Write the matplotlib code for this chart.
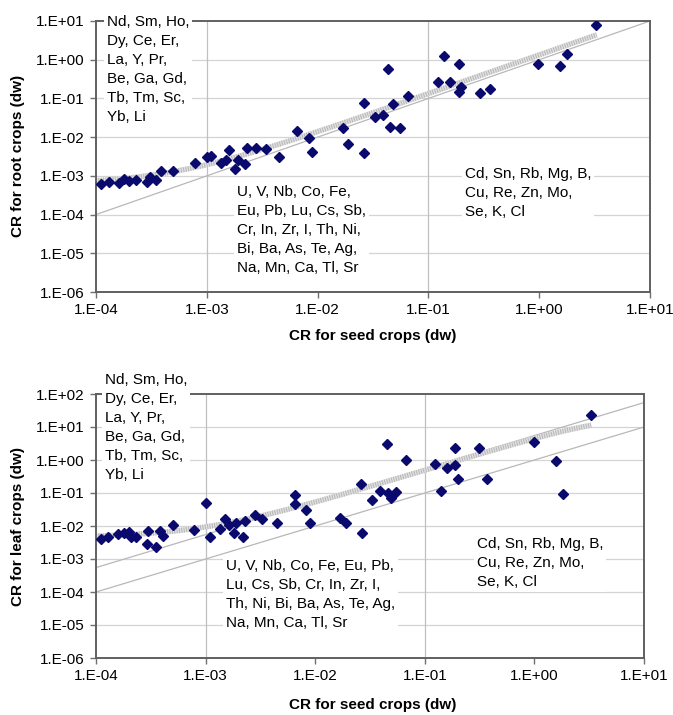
import numpy as np
import matplotlib
matplotlib.use("Agg")
import matplotlib.pyplot as plt
from matplotlib.ticker import FixedLocator, FuncFormatter

plt.rcParams["font.family"] = ["Liberation Sans", "DejaVu Sans"]

# ---- data ----
# root crops vs seed crops
root_seed = [1.1e-4, 1.3e-4, 1.6e-4, 1.8e-4, 2.0e-4, 2.3e-4, 2.9e-4, 3.1e-4, 3.5e-4, 3.9e-4,
             5.0e-4, 7.8e-4, 1.0e-3, 1.1e-3, 1.35e-3, 1.5e-3, 1.6e-3, 1.8e-3, 1.9e-3, 2.2e-3,
             2.3e-3, 2.8e-3, 3.4e-3, 4.5e-3, 6.5e-3, 8.3e-3, 8.9e-3, 1.7e-2, 1.9e-2, 2.6e-2,
             2.6e-2, 3.3e-2, 3.9e-2, 4.3e-2, 4.5e-2, 4.8e-2, 5.5e-2, 6.6e-2, 0.123, 0.138,
             0.158, 0.19, 0.195, 0.19, 0.29, 0.36, 0.98, 1.55, 1.78, 3.24]
root_val = [6.0e-4, 7.1e-4, 6.6e-4, 8.3e-4, 7.4e-4, 7.8e-4, 7.1e-4, 9.5e-4, 7.8e-4, 1.3e-3,
            1.3e-3, 2.1e-3, 3.1e-3, 3.2e-3, 2.1e-3, 2.6e-3, 4.7e-3, 1.5e-3, 2.6e-3, 2.0e-3,
            5.4e-3, 5.4e-3, 4.9e-3, 3.1e-3, 1.4e-2, 9.5e-3, 4.2e-3, 1.7e-2, 6.5e-3, 7.8e-2,
            4.0e-3, 3.4e-2, 3.7e-2, 0.56, 1.8e-2, 7.2e-2, 1.7e-2, 0.115, 0.27, 1.26,
            0.26, 0.78, 0.20, 0.148, 0.135, 0.174, 0.76, 0.69, 1.41, 7.9]

# leaf crops vs seed crops
leaf_seed = [1.1e-4, 1.3e-4, 1.6e-4, 1.8e-4, 2.0e-4, 2.1e-4, 2.3e-4, 3.0e-4, 2.95e-4, 3.5e-4,
             3.8e-4, 4.1e-4, 5.0e-4, 7.8e-4, 1.0e-3, 1.1e-3, 1.35e-3, 1.5e-3, 1.65e-3, 1.8e-3,
             1.9e-3, 2.2e-3, 2.3e-3, 2.8e-3, 3.3e-3, 4.5e-3, 6.6e-3, 6.5e-3, 8.3e-3, 8.9e-3,
             1.7e-2, 1.9e-2, 2.6e-2, 2.7e-2, 3.3e-2, 3.9e-2, 4.5e-2, 4.6e-2, 4.9e-2, 5.5e-2,
             6.8e-2, 0.123, 0.141, 0.158, 0.19, 0.19, 0.20, 0.31, 0.37, 1.0, 1.58, 1.82, 3.3]
leaf_val = [4.0e-3, 4.8e-3, 5.8e-3, 6.0e-3, 6.8e-3, 4.8e-3, 4.8e-3, 7.2e-3, 2.8e-3, 2.3e-3,
            7.2e-3, 5.0e-3, 1.07e-2, 7.6e-3, 5.1e-2, 4.8e-3, 7.9e-3, 1.6e-2, 1.07e-2, 6.0e-3,
            1.2e-2, 4.6e-3, 1.45e-2, 2.1e-2, 1.6e-2, 1.2e-2, 8.7e-2, 4.7e-2, 3.0e-2, 1.26e-2,
            1.7e-2, 1.26e-2, 0.186, 6.3e-3, 6.2e-2, 0.117, 3.0, 9.8e-2, 6.9e-2, 0.11,
            1.0, 0.76, 0.117, 0.56, 2.24, 0.71, 0.26, 2.24, 0.26, 3.5, 0.93, 0.093, 23.0]

# trendlines (polynomial coefficients c0 + c1*x + c2*x^2) and reference lines
root_fit = [6.2e-4, 1.33, 0.0]
leaf_fit = [4.5e-3, 4.9, -0.45]
fit_range = (1e-4, 3.3)
leaf_upper_factor = 5.5

left_labels = "Nd, Sm, Ho,\nDy, Ce, Er,\nLa, Y, Pr,\nBe, Ga, Gd,\nTb, Tm, Sc,\nYb, Li"
mid_labels_root = "U, V, Nb, Co, Fe,\nEu, Pb, Lu, Cs, Sb,\nCr, In, Zr, I, Th, Ni,\nBi, Ba, As, Te, Ag,\nNa, Mn, Ca, Tl, Sr"
mid_labels_leaf = "U, V, Nb, Co, Fe, Eu, Pb,\nLu, Cs, Sb, Cr, In, Zr, I,\nTh, Ni, Bi, Ba, As, Te, Ag,\nNa, Mn, Ca, Tl, Sr"
right_labels = "Cd, Sn, Rb, Mg, B,\nCu, Re, Zn, Mo,\nSe, K, Cl"

W, H = 673, 715
fig = plt.figure(figsize=(W / 100, H / 100), dpi=100)


def px_axes(l, t, r, b):
    return fig.add_axes([l / W, 1 - b / H, (r - l) / W, (b - t) / H])


def fmt(v, pos):
    e = int(round(np.log10(v)))
    return "1.E%s%02d" % ("+" if e >= 0 else "-", abs(e))


def style(ax, ylo, yhi):
    ax.set_xscale("log")
    ax.set_yscale("log")
    ax.set_xlim(1e-4, 1e1)
    ax.set_ylim(ylo, yhi)
    ax.xaxis.set_major_locator(FixedLocator([10.0 ** k for k in range(-4, 2)]))
    ax.yaxis.set_major_locator(FixedLocator([10.0 ** k for k in range(int(np.log10(ylo)), int(np.log10(yhi)) + 1)]))
    ax.xaxis.set_minor_locator(FixedLocator([]))
    ax.yaxis.set_minor_locator(FixedLocator([]))
    ax.xaxis.set_major_formatter(FuncFormatter(fmt))
    ax.yaxis.set_major_formatter(FuncFormatter(fmt))
    ax.tick_params(length=4, width=1, color="#707070", labelsize=11, pad=4)
    for s in ax.spines.values():
        s.set_color("#606060")
        s.set_linewidth(1.4)
    for k in range(int(np.log10(ylo)) + 1, int(np.log10(yhi))):
        ax.axhline(10.0 ** k, color="#d4d4d4", lw=0.9, zorder=0)
    for xv in (1e-3, 1e-1):
        ax.axvline(xv, color="#c0c0c0", lw=0.9, zorder=0)


def trend(ax, coef):
    xs = np.logspace(np.log10(fit_range[0]), np.log10(fit_range[1]), 80)
    ys = coef[0] + coef[1] * xs + coef[2] * xs ** 2
    ax.plot(xs, ys, color="#e2e2e2", lw=3.8, solid_capstyle="butt", zorder=2)
    ax.plot(xs, ys, color="#b8b8b8", lw=3.8, ls=(0, (0.2, 0.25)), dash_capstyle="butt", zorder=2)


def label(ax, x, y, s):
    ax.text(x / W, 1 - y / H, s, transform=fig.transFigure, fontsize=11, va="top", ha="left",
            linespacing=1.45, zorder=6,
            bbox=dict(facecolor="white", edgecolor="none", pad=2), clip_on=False)


# ---- top: root crops ----
ax1 = px_axes(96, 21, 650, 292)
style(ax1, 1e-6, 1e1)
ax1.plot([1e-4, 1e1], [1e-4, 1e1], color="#b8b8b8", lw=0.9, zorder=1)
trend(ax1, root_fit)
ax1.plot(root_seed, root_val, ls="none", marker="D", ms=5.5, color="#0a0a6e", mec="#0a0a6e", zorder=4)
label(ax1, 107, 15, left_labels)
label(ax1, 237, 185, mid_labels_root)
label(ax1, 465, 167, right_labels)

# ---- bottom: leaf crops ----
ax2 = px_axes(96, 394, 644, 658)
style(ax2, 1e-6, 1e2)
ax2.plot([1e-4, 1e1], [1e-4, 1e1], color="#b8b8b8", lw=0.9, zorder=1)
ax2.plot([1e-4, 1e1], [leaf_upper_factor * 1e-4, leaf_upper_factor * 1e1], color="#b8b8b8", lw=0.9, zorder=1)
trend(ax2, leaf_fit)
ax2.plot(leaf_seed, leaf_val, ls="none", marker="D", ms=5.5, color="#0a0a6e", mec="#0a0a6e", zorder=4)
label(ax2, 105, 373, left_labels)
label(ax2, 226, 559, mid_labels_leaf)
label(ax2, 477, 537, right_labels)

# axis titles
fig.text(373 / W, 1 - 336 / H, "CR for seed crops (dw)", ha="center", va="center", fontsize=11, fontweight="bold")
fig.text(373 / W, 1 - 705 / H, "CR for seed crops (dw)", ha="center", va="center", fontsize=11, fontweight="bold")
fig.text(18 / W, 1 - 156 / H, "CR for root crops (dw)", ha="center", va="center", rotation=90, fontsize=11, fontweight="bold")
fig.text(18 / W, 1 - 526 / H, "CR for leaf crops (dw)", ha="center", va="center", rotation=90, fontsize=11, fontweight="bold")

fig.savefig("out.png", dpi=100)
